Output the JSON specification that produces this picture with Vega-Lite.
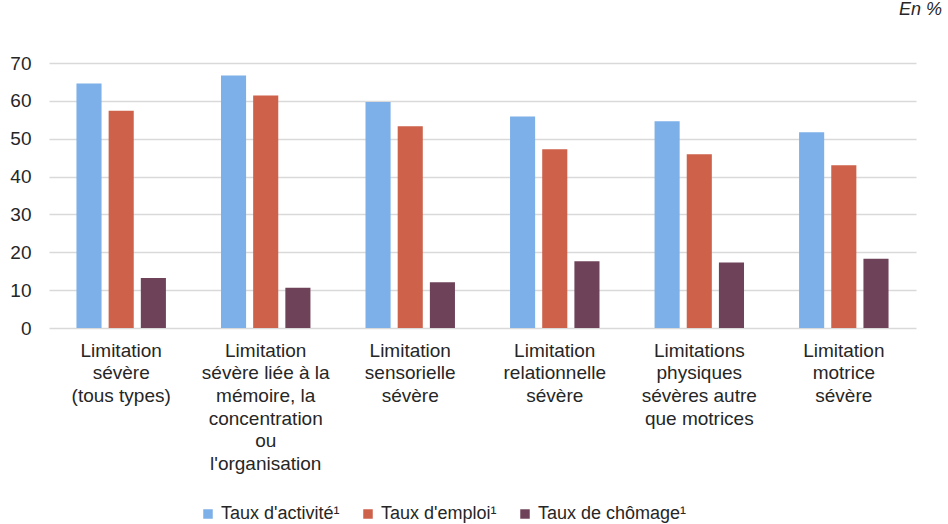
{
  "$schema": "https://vega.github.io/schema/vega-lite/v6.json",
  "width": 867,
  "height": 265,
  "autosize": {"type": "none"},
  "padding": {"left": 49, "top": 63, "right": 32, "bottom": 196},
  "background": "white",
  "title": {
    "text": "En %",
    "anchor": "end",
    "orient": "top",
    "offset": 35,
    "dx": 26,
    "fontStyle": "italic",
    "fontWeight": "normal",
    "fontSize": 18,
    "font": "Liberation Sans",
    "color": "#262626"
  },
  "data": {
    "values": [
      {"categorie": "Limitation|sévère|(tous types)", "serie": "Taux d'activité¹", "valeur": 64.6},
      {"categorie": "Limitation|sévère|(tous types)", "serie": "Taux d'emploi¹", "valeur": 57.4},
      {"categorie": "Limitation|sévère|(tous types)", "serie": "Taux de chômage¹", "valeur": 13.2},
      {"categorie": "Limitation|sévère liée à la|mémoire, la|concentration|ou|l'organisation", "serie": "Taux d'activité¹", "valeur": 66.7},
      {"categorie": "Limitation|sévère liée à la|mémoire, la|concentration|ou|l'organisation", "serie": "Taux d'emploi¹", "valeur": 61.4},
      {"categorie": "Limitation|sévère liée à la|mémoire, la|concentration|ou|l'organisation", "serie": "Taux de chômage¹", "valeur": 10.6},
      {"categorie": "Limitation|sensorielle|sévère", "serie": "Taux d'activité¹", "valeur": 59.7},
      {"categorie": "Limitation|sensorielle|sévère", "serie": "Taux d'emploi¹", "valeur": 53.3},
      {"categorie": "Limitation|sensorielle|sévère", "serie": "Taux de chômage¹", "valeur": 12.1},
      {"categorie": "Limitation|relationnelle|sévère", "serie": "Taux d'activité¹", "valeur": 55.9},
      {"categorie": "Limitation|relationnelle|sévère", "serie": "Taux d'emploi¹", "valeur": 47.2},
      {"categorie": "Limitation|relationnelle|sévère", "serie": "Taux de chômage¹", "valeur": 17.6},
      {"categorie": "Limitations|physiques|sévères autre|que motrices", "serie": "Taux d'activité¹", "valeur": 54.6},
      {"categorie": "Limitations|physiques|sévères autre|que motrices", "serie": "Taux d'emploi¹", "valeur": 45.9},
      {"categorie": "Limitations|physiques|sévères autre|que motrices", "serie": "Taux de chômage¹", "valeur": 17.3},
      {"categorie": "Limitation|motrice|sévère", "serie": "Taux d'activité¹", "valeur": 51.7},
      {"categorie": "Limitation|motrice|sévère", "serie": "Taux d'emploi¹", "valeur": 43.0},
      {"categorie": "Limitation|motrice|sévère", "serie": "Taux de chômage¹", "valeur": 18.3}
    ]
  },
  "mark": {"type": "bar"},
  "encoding": {
    "x": {
      "field": "categorie",
      "type": "nominal",
      "sort": null,
      "scale": {"paddingInner": 0.381, "paddingOuter": 0.19},
      "axis": {
        "title": null,
        "labelAngle": 0,
        "labelExpr": "split(datum.label, '|')",
        "labelFont": "Liberation Sans",
        "labelFontSize": 19,
        "labelColor": "#262626",
        "labelLineHeight": 22.7,
        "labelBaseline": "top",
        "labelPadding": 13,
        "labelLimit": 200,
        "ticks": false,
        "domain": false,
        "grid": false
      }
    },
    "xOffset": {
      "field": "serie",
      "type": "nominal",
      "sort": ["Taux d'activité¹", "Taux d'emploi¹", "Taux de chômage¹"],
      "scale": {"paddingInner": 0.22, "paddingOuter": 0}
    },
    "y": {
      "field": "valeur",
      "type": "quantitative",
      "scale": {"domain": [0, 70], "nice": false},
      "axis": {
        "title": null,
        "values": [0, 10, 20, 30, 40, 50, 60, 70],
        "labelFont": "Liberation Sans",
        "labelFontSize": 19,
        "labelColor": "#262626",
        "labelPadding": 18,
        "ticks": false,
        "domain": false,
        "grid": true,
        "gridColor": "#d9d9d9",
        "gridWidth": 1.5
      }
    },
    "color": {
      "field": "serie",
      "type": "nominal",
      "scale": {
        "domain": ["Taux d'activité¹", "Taux d'emploi¹", "Taux de chômage¹"],
        "range": ["#7db0e8", "#cd614a", "#6e435a"]
      },
      "legend": {
        "title": null,
        "orient": "none",
        "direction": "horizontal",
        "legendX": 150,
        "legendY": 442,
        "symbolType": "square",
        "symbolSize": 90,
        "symbolStrokeWidth": 0,
        "symbolOpacity": 1,
        "labelFont": "Liberation Sans",
        "labelFontSize": 18,
        "labelColor": "#262626",
        "labelOffset": 4,
        "columnPadding": 19,
        "padding": 0
      }
    }
  },
  "config": {
    "view": {"stroke": null}
  }
}
